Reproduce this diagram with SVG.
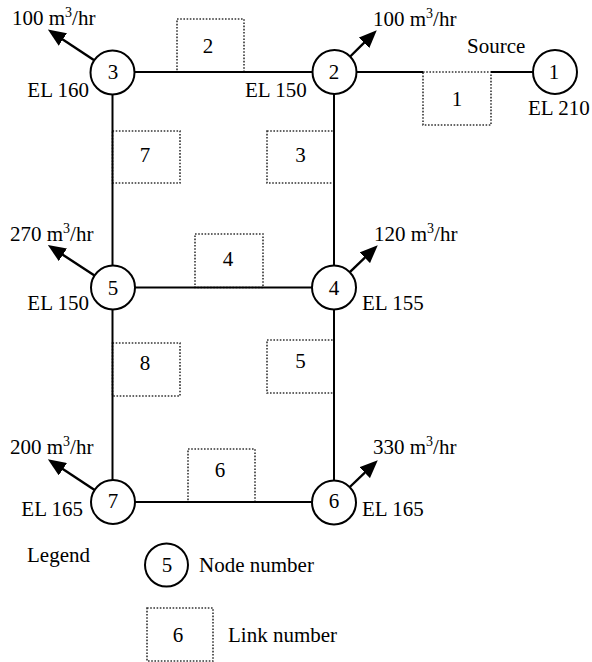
<svg xmlns="http://www.w3.org/2000/svg" width="592" height="662" viewBox="0 0 592 662" font-family="'Liberation Serif', 'DejaVu Serif', serif">
<style>
text{font-family:'Liberation Serif','DejaVu Serif',serif;font-size:21px;fill:#000}
.c{text-anchor:middle}
.e{text-anchor:end}
.node circle{fill:#fff;stroke:#000;stroke-width:2}
.link rect{fill:none;stroke:#333;stroke-width:1.6;stroke-dasharray:1.6 1.6}
.pipe{stroke:#000;stroke-width:2;fill:none}
.dem{stroke:#000;stroke-width:2.4;fill:none;marker-end:url(#ah)}
.sup{font-size:14px}
</style>
<defs>
<marker id="ah" viewBox="0 0 18 15" markerWidth="18" markerHeight="15" refX="11" refY="7.5" orient="auto" markerUnits="userSpaceOnUse">
<path d="M0,0 L18,7.5 L0,15 z" fill="#000"/>
</marker>
</defs>
<g id="links">
<g id="link2" class="link"><rect x="177" y="19" width="67" height="53"/><text class="c" x="208" y="53">2</text></g>
<g id="link1" class="link"><rect x="423" y="72" width="68" height="53"/><text class="c" x="457" y="106">1</text></g>
<g id="link7" class="link"><rect x="112.5" y="131" width="67.5" height="52"/><text class="c" x="145" y="162">7</text></g>
<g id="link3" class="link"><rect x="267" y="131" width="67" height="52"/><text class="c" x="300.5" y="162">3</text></g>
<g id="link4" class="link"><rect x="195" y="234" width="68" height="53.5"/><text class="c" x="228" y="266">4</text></g>
<g id="link8" class="link"><rect x="112.5" y="343" width="67.5" height="53"/><text class="c" x="145" y="370">8</text></g>
<g id="link5" class="link"><rect x="267" y="340" width="67" height="53"/><text class="c" x="300.5" y="368">5</text></g>
<g id="link6" class="link"><rect x="188" y="449" width="67" height="53"/><text class="c" x="220" y="477">6</text></g>
</g>
<g id="connectors">
<line class="pipe" x1="134.5" y1="72" x2="312.5" y2="72"/>
<line class="pipe" x1="356.5" y1="72" x2="423" y2="72"/>
<line class="pipe" x1="491" y1="72" x2="533" y2="72"/>
<line class="pipe" x1="112.5" y1="94.5" x2="112.5" y2="265.5"/>
<line class="pipe" x1="334" y1="94" x2="334" y2="265.5"/>
<line class="pipe" x1="135" y1="287.5" x2="312" y2="287.5"/>
<line class="pipe" x1="112.5" y1="309.5" x2="112.5" y2="480"/>
<line class="pipe" x1="334" y1="309.5" x2="334" y2="480.5"/>
<line class="pipe" x1="135" y1="502" x2="312" y2="502"/>
<line class="dem" x1="94.2" y1="60.3" x2="53.7" y2="33.4"/>
<line class="dem" x1="350.2" y1="56.5" x2="371.8" y2="35.1"/>
<line class="dem" x1="94.5" y1="275.6" x2="53.7" y2="248.8"/>
<line class="dem" x1="349.8" y1="272.2" x2="372.7" y2="250.1"/>
<line class="dem" x1="94.6" y1="490" x2="53.7" y2="463.1"/>
<line class="dem" x1="349.8" y1="487" x2="372.7" y2="465.1"/>
</g>
<g id="node3" class="node"><circle cx="112.5" cy="72.5" r="22"/><text class="c" x="113" y="79">3</text></g>
<g id="node2" class="node"><circle cx="334.5" cy="72" r="22"/><text class="c" x="334" y="79">2</text></g>
<g id="node1" class="node"><circle cx="555" cy="72" r="22"/><text class="c" x="554" y="79">1</text></g>
<g id="node5" class="node"><circle cx="113" cy="287.5" r="22"/><text class="c" x="113" y="295">5</text></g>
<g id="node4" class="node"><circle cx="334" cy="287.5" r="22"/><text class="c" x="334" y="295">4</text></g>
<g id="node7" class="node"><circle cx="113" cy="502" r="22"/><text class="c" x="113" y="508">7</text></g>
<g id="node6" class="node"><circle cx="334" cy="502.5" r="22"/><text class="c" x="334" y="508">6</text></g>
<g id="labels">
<text x="12" y="25">100 m<tspan class="sup" dy="-8">3</tspan><tspan dy="8">/hr</tspan></text>
<text x="373" y="26">100 m<tspan class="sup" dy="-8">3</tspan><tspan dy="8">/hr</tspan></text>
<text x="467" y="53">Source</text>
<text class="e" x="89" y="97">EL 160</text>
<text x="245" y="97">EL 150</text>
<text x="528" y="115">EL 210</text>
<text x="10" y="241">270 m<tspan class="sup" dy="-8">3</tspan><tspan dy="8">/hr</tspan></text>
<text x="374" y="241">120 m<tspan class="sup" dy="-8">3</tspan><tspan dy="8">/hr</tspan></text>
<text class="e" x="89" y="310">EL 150</text>
<text x="362" y="310">EL 155</text>
<text x="10" y="454">200 m<tspan class="sup" dy="-8">3</tspan><tspan dy="8">/hr</tspan></text>
<text x="373" y="454">330 m<tspan class="sup" dy="-8">3</tspan><tspan dy="8">/hr</tspan></text>
<text class="e" x="83" y="516">EL 165</text>
<text x="362" y="516">EL 165</text>
</g>
<g id="legend">
<text x="27" y="562">Legend</text>
<g id="legend-node" class="node"><circle cx="166.5" cy="565" r="21.5"/><text class="c" x="167" y="572">5</text></g>
<text x="199" y="572">Node number</text>
<g id="legend-link" class="link"><rect x="147" y="608" width="66" height="53"/><text class="c" x="178" y="642">6</text></g>
<text x="228" y="642">Link number</text>
</g>
</svg>
